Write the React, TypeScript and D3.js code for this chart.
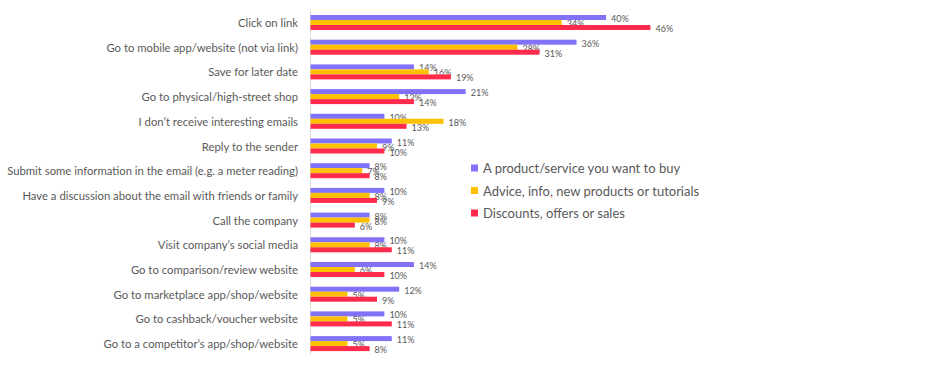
import React from "react";
import * as d3 from "d3";

const categories = [
  "Click on link",
  "Go to mobile app/website (not via link)",
  "Save for later date",
  "Go to physical/high-street shop",
  "I don\u2019t receive interesting emails",
  "Reply to the sender",
  "Submit some information in the email (e.g. a meter reading)",
  "Have a discussion about the email with friends or family",
  "Call the company",
  "Visit company\u2019s social media",
  "Go to comparison/review website",
  "Go to marketplace app/shop/website",
  "Go to cashback/voucher website",
  "Go to a competitor\u2019s app/shop/website",
];

const seriesNames = [
  "A product/service you want to buy",
  "Advice, info, new products or tutorials",
  "Discounts, offers or sales",
];

const productValues = [40, 36, 14, 21, 10, 11, 8, 10, 8, 10, 14, 12, 10, 11];
const adviceValues = [34, 28, 16, 12, 18, 9, 7, 8, 8, 8, 6, 5, 5, 5];
const discountValues = [46, 31, 19, 14, 13, 10, 8, 9, 6, 11, 10, 9, 11, 8];

const seriesValues = [productValues, adviceValues, discountValues];
const colors = ["#8272FA", "#FFC000", "#FF2B4A"];

const W = 936;
const H = 367;
const axisX = 310.5;
const pxPerPct = 7.39;

export default function App() {
  const x = d3.scaleLinear().domain([0, 50]).range([axisX, axisX + 50 * pxPerPct]);
  const step = 24.7;
  const pad = 9.7 / step;
  const y = d3
    .scaleBand<string>()
    .domain(categories)
    .range([15, 15 + step * (categories.length - pad)])
    .paddingInner(pad)
    .paddingOuter(0);
  const inner = d3
    .scaleBand<number>()
    .domain([0, 1, 2])
    .range([0, y.bandwidth()]);

  const font = "Lato, 'Open Sans', sans-serif";

  return (
    <svg
      width={W}
      height={H}
      style={{ position: "absolute", left: 0, top: 0, background: "#fff" }}
      fontFamily={font}
    >
      <line x1={axisX} x2={axisX} y1={11} y2={355} stroke="#d9d9d9" strokeWidth={1} />
      {categories.map((c, i) => {
        const y0 = y(c)!;
        return (
          <g key={c}>
            <text
              x={298}
              y={y0 + y.bandwidth() / 2}
              textAnchor="end"
              dominantBaseline="central"
              fontSize={11.3}
              fill="#595959"
            >
              {c}
            </text>
            {seriesValues.map((vals, s) => {
              const v = vals[i];
              const by = y0 + inner(s)!;
              return (
                <g key={s}>
                  <rect
                    x={x(0)}
                    y={by}
                    width={x(v) - x(0)}
                    height={inner.bandwidth()}
                    fill={colors[s]}
                  />
                  <text
                    x={x(v) + 5}
                    y={by + inner.bandwidth() / 2 + 1}
                    dominantBaseline="central"
                    fontSize={9}
                    fill="#595959"
                  >
                    {v + "%"}
                  </text>
                </g>
              );
            })}
          </g>
        );
      })}
      {seriesNames.map((n, s) => {
        const ly = 168 + s * 22.5;
        return (
          <g key={n}>
            <rect x={471} y={ly - 3.5} width={7} height={7} fill={colors[s]} />
            <text
              x={483}
              y={ly}
              dominantBaseline="central"
              fontSize={13}
              fill="#595959"
            >
              {n}
            </text>
          </g>
        );
      })}
    </svg>
  );
}
